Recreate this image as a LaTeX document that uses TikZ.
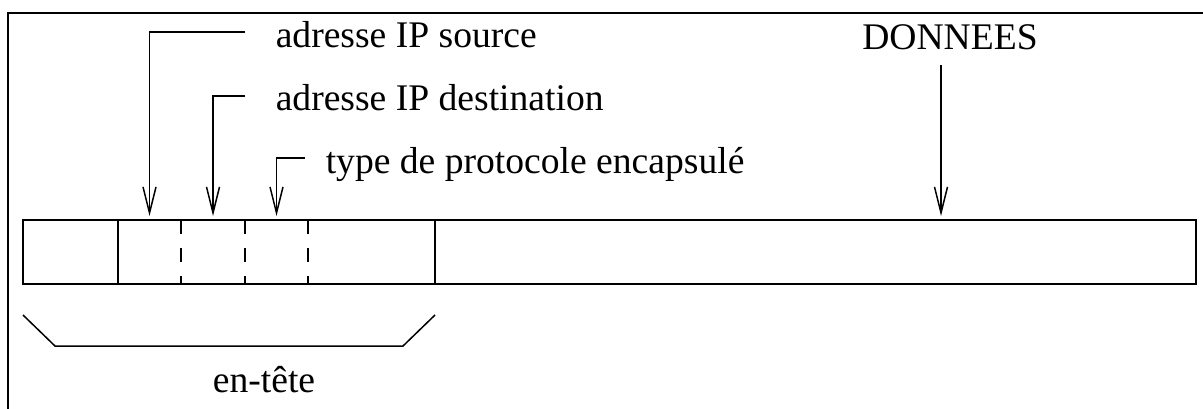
\documentclass[tikz,border=0pt]{standalone}
\usepackage{fontspec}
\setmainfont{Liberation Serif}
\usetikzlibrary{positioning, arrows.meta}

\begin{document}
\begin{tikzpicture}[
  x=0.5pt, y=-0.5pt,
  line width=0.75pt,
  >={Straight Barb[length=13pt, width=6.5pt]},
  champ/.style = {minimum height=32pt, inner sep=0pt, outer sep=0pt, anchor=west},
  txt/.style = {font=\fontsize{18.8}{22}\selectfont, inner sep=0pt},
  fleche/.style = {->, shorten >=2pt},
  pointille/.style = {dash pattern=on 7pt off 7pt}
]
\useasboundingbox (0,0) rectangle (1203,408);

% cadre
\draw[line width=1pt] (8,13) rectangle (1260,470);

% champs de la trame
\node[champ, minimum width=47.5pt] (f0) at (23,252) {};
\node[champ, minimum width=31.5pt, right=0pt of f0] (f1) {};
\node[champ, minimum width=32pt, right=0pt of f1] (f2) {};
\node[champ, minimum width=31.5pt, right=0pt of f2] (f3) {};
\node[champ, minimum width=63.5pt, right=0pt of f3] (f4) {};
\node[champ, minimum width=380.5pt, right=0pt of f4] (data) {};

\draw (f0.north west) rectangle (data.south east);
\draw (f1.north west) -- (f1.south west);
\draw (data.north west) -- (data.south west);
\foreach \f in {f2, f3, f4}
  \draw[pointille] (\f.north west) -- (\f.south west);

% textes
\node[txt, anchor=base west] (lsrc)   at (275,47)  {adresse IP source};
\node[txt, anchor=base west] (ldst)   at (275,110) {adresse IP destination};
\node[txt, anchor=base west] (lproto) at (325,173) {type de protocole encapsulé};
\node[txt, anchor=base]      (ldon)   at (950,49)  {DONNEES};
\node[txt, anchor=base]      (lent)   at (264,392) {en-tête};

% fleches vers les champs
\draw[fleche] ([shift={(-30,-15)}]lsrc.base west) -| (f1.north);
\draw[fleche] ([shift={(-30,-14)}]ldst.base west) -| (f2.north);
\draw[fleche] ([shift={(-20,-15)}]lproto.base west) -| (f3.north);
\draw[fleche] ([shift={(-9,15)}]ldon.south) coordinate (dd) -- (dd |- data.north);

% accolade de l'en-tete
\draw ([shift={(0,31)}]f0.south west) -- ++(32,31)
  -- ([shift={(-32,62)}]f4.south east) -- ([shift={(0,31)}]f4.south east);

\end{tikzpicture}
\end{document}
